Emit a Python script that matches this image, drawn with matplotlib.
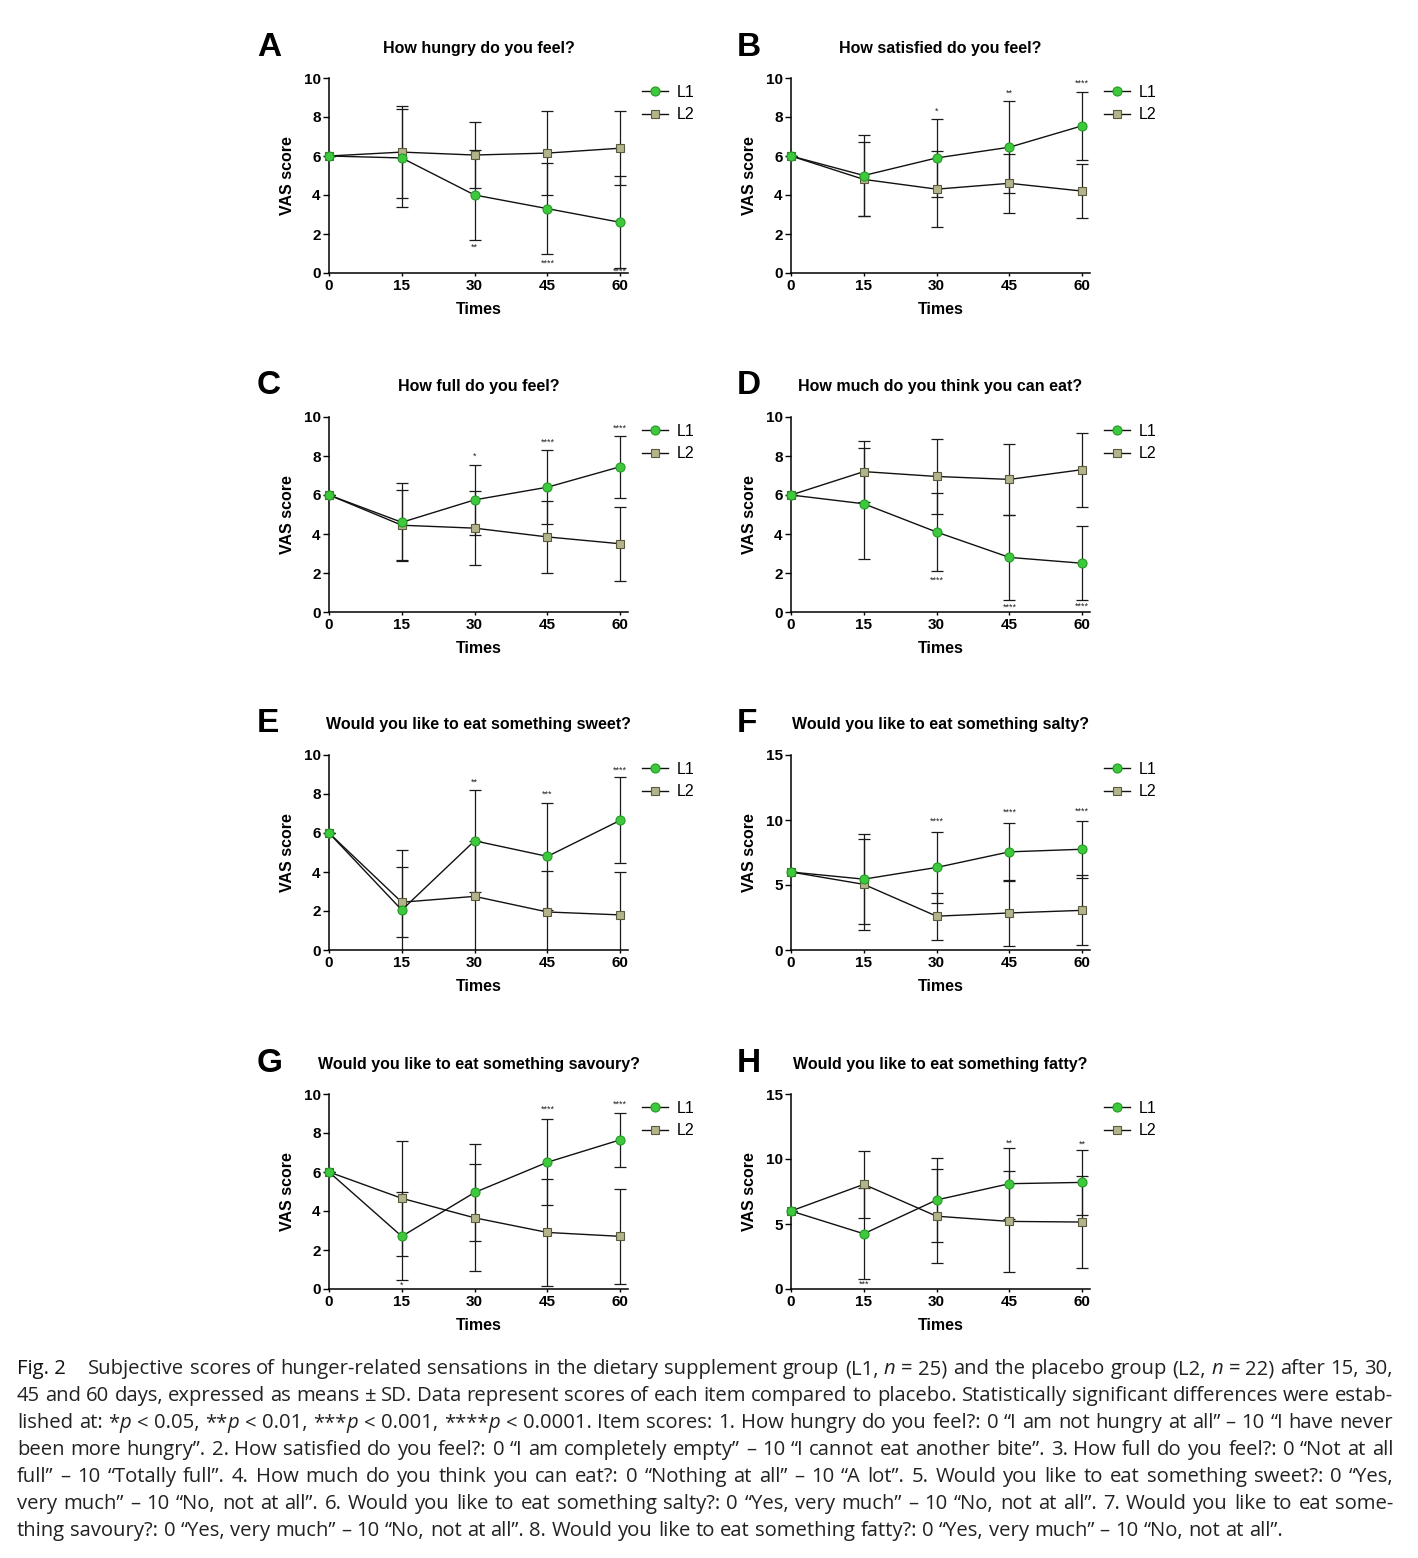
import matplotlib
matplotlib.use("Agg")
import matplotlib.pyplot as plt

W, H = 1418, 1558
DPI = 100

times = [0, 15, 30, 45, 60]

panel_letters = ["A", "B", "C", "D", "E", "F", "G", "H"]
panel_titles = [
    "How hungry do you feel?",
    "How satisfied do you feel?",
    "How full do you feel?",
    "How much do you think you can eat?",
    "Would you like to eat something sweet?",
    "Would you like to eat something salty?",
    "Would you like to eat something savoury?",
    "Would you like to eat something fatty?",
]
y_max = [10, 10, 10, 10, 10, 15, 10, 15]

L1_mean = [
    [6, 5.9, 4.0, 3.3, 2.6],
    [6, 5.0, 5.9, 6.45, 7.55],
    [6, 4.6, 5.75, 6.4, 7.45],
    [6, 5.55, 4.1, 2.8, 2.5],
    [6, 2.05, 5.6, 4.8, 6.65],
    [6, 5.45, 6.35, 7.55, 7.75],
    [6, 2.7, 4.95, 6.5, 7.65],
    [6, 4.25, 6.85, 8.1, 8.2],
]
L1_sd = [
    [0, 2.5, 2.3, 2.35, 2.35],
    [0, 2.1, 2.0, 2.35, 1.75],
    [0, 2.0, 1.8, 1.9, 1.6],
    [0, 2.85, 2.0, 2.2, 1.9],
    [0, 3.1, 2.6, 2.75, 2.2],
    [0, 3.45, 2.75, 2.25, 2.2],
    [0, 2.25, 2.5, 2.2, 1.4],
    [0, 3.5, 3.2, 2.75, 2.5],
]
L2_mean = [
    [6, 6.2, 6.05, 6.15, 6.4],
    [6, 4.8, 4.3, 4.6, 4.2],
    [6, 4.45, 4.3, 3.85, 3.5],
    [6, 7.2, 6.95, 6.8, 7.3],
    [6, 2.45, 2.75, 1.95, 1.8],
    [6, 5.05, 2.6, 2.85, 3.05],
    [6, 4.65, 3.65, 2.9, 2.7],
    [6, 8.05, 5.6, 5.2, 5.15],
]
L2_sd = [
    [0, 2.35, 1.7, 2.15, 1.9],
    [0, 1.9, 1.95, 1.5, 1.4],
    [0, 1.8, 1.9, 1.85, 1.9],
    [0, 1.55, 1.9, 1.8, 1.9],
    [0, 1.8, 2.85, 2.1, 2.2],
    [0, 3.5, 1.8, 2.55, 2.7],
    [0, 2.95, 2.75, 2.75, 2.45],
    [0, 2.55, 3.6, 3.9, 3.55],
]
# significance marks: (time, y, stars)
sig_marks = [
    [(30, 1.3, "**"), (45, 0.5, "****"), (60, 0.08, "****")],
    [(30, 8.3, "*"), (45, 9.2, "**"), (60, 9.75, "****")],
    [(30, 8.0, "*"), (45, 8.7, "****"), (60, 9.4, "****")],
    [(30, 1.65, "****"), (45, 0.25, "****"), (60, 0.3, "****")],
    [(30, 8.6, "**"), (45, 8.0, "***"), (60, 9.2, "****")],
    [(30, 9.9, "****"), (45, 10.6, "****"), (60, 10.7, "****")],
    [(15, 0.2, "*"), (45, 9.2, "****"), (60, 9.5, "****")],
    [(15, 0.4, "***"), (45, 11.2, "**"), (60, 11.1, "**")],
]

caption_lines = [
    "Subjective scores of hunger-related sensations in the dietary supplement group (L1, _n_ = 25) and the placebo group (L2, _n_ = 22) after 15, 30,",
    "45 and 60 days, expressed as means ± SD. Data represent scores of each item compared to placebo. Statistically significant differences were estab-",
    "lished at: *_p_ < 0.05, **_p_ < 0.01, ***_p_ < 0.001, ****_p_ < 0.0001. Item scores: 1. How hungry do you feel?: 0 “I am not hungry at all” – 10 “I have never",
    "been more hungry”. 2. How satisfied do you feel?: 0 “I am completely empty” – 10 “I cannot eat another bite”. 3. How full do you feel?: 0 “Not at all",
    "full” – 10 “Totally full”. 4. How much do you think you can eat?: 0 “Nothing at all” – 10 “A lot”. 5. Would you like to eat something sweet?: 0 “Yes,",
    "very much” – 10 “No, not at all”. 6. Would you like to eat something salty?: 0 “Yes, very much” – 10 “No, not at all”. 7. Would you like to eat some-",
    "thing savoury?: 0 “Yes, very much” – 10 “No, not at all”. 8. Would you like to eat something fatty?: 0 “Yes, very much” – 10 “No, not at all”.",
]

L1_face, L1_edge = "#3ec83e", "#239a23"
L2_face, L2_edge = "#b4b48c", "#5a5a40"

plt.rcParams["font.family"] = ["Liberation Sans", "DejaVu Sans"]
fig = plt.figure(figsize=(W / DPI, H / DPI), dpi=DPI)
fig.patch.set_facecolor("white")


def fx(x):
    return x / W


def fy(y):
    return 1 - y / H


col_left = [329, 791]
ax_w = 299
row_top = [78, 417, 755, 1094]
ax_h = 195
letter_x = [257, 737]

for i in range(8):
    r, c = divmod(i, 2)
    left = col_left[c]
    top = row_top[r]
    ax = fig.add_axes([fx(left), fy(top + ax_h), ax_w / W, ax_h / H])
    ax.errorbar(times, L1_mean[i], yerr=L1_sd[i], fmt="none", ecolor="#1a1a1a",
                elinewidth=0.9, capsize=4.5, capthick=0.9, zorder=2)
    ax.errorbar(times, L2_mean[i], yerr=L2_sd[i], fmt="none", ecolor="#1a1a1a",
                elinewidth=0.9, capsize=4.5, capthick=0.9, zorder=2)
    h1, = ax.plot(times, L1_mean[i], "-", color="#111111", lw=1.0, marker="o",
                  markersize=6.5, markerfacecolor=L1_face, markeredgecolor=L1_edge,
                  markeredgewidth=0.8, clip_on=False, zorder=4, label="L1")
    h2, = ax.plot(times, L2_mean[i], "-", color="#111111", lw=1.0, marker="s",
                  markersize=6.0, markerfacecolor=L2_face, markeredgecolor=L2_edge,
                  markeredgewidth=0.8, clip_on=False, zorder=3, label="L2")
    for (tx, ty, st) in sig_marks[i]:
        ax.text(tx, ty, st, fontsize=6.5, ha="center", va="center", color="#222222",
                clip_on=False)
    ym = y_max[i]
    ax.set_xlim(0, 61.6)
    ax.set_ylim(0, ym)
    ax.set_xticks(times)
    ax.set_yticks(range(0, ym + 1, 2 if ym == 10 else 5))
    for s in ["top", "right"]:
        ax.spines[s].set_visible(False)
    for s in ["left", "bottom"]:
        ax.spines[s].set_linewidth(1.1)
    ax.tick_params(axis="both", labelsize=11, width=1.0, length=4, pad=2)
    ax.tick_params(axis="x", length=2)
    for lab in ax.get_xticklabels() + ax.get_yticklabels():
        lab.set_fontweight("bold")
    ax.set_xlabel("Times", fontsize=11.5, fontweight="bold", labelpad=7)
    ax.set_ylabel("VAS score", fontsize=11.5, fontweight="bold", labelpad=6)
    # legend
    leg_x = left + ax_w + 14
    ax.legend(handles=[h1, h2], loc="upper left",
              bbox_to_anchor=(fx(leg_x), fy(top + 7)), bbox_transform=fig.transFigure,
              frameon=False, fontsize=11.5, handlelength=1.6, handletextpad=0.6,
              labelspacing=0.45, borderpad=0, borderaxespad=0)
    # title and letter
    fig.text(fx(left + ax_w / 2), fy(top - 30), panel_titles[i], fontsize=11.5,
             fontweight="bold", ha="center", va="center")
    fig.text(fx(letter_x[c]), fy(top - 31), panel_letters[i], fontsize=24,
             fontweight="bold", ha="left", va="center")

# ---- caption (justified) ----
cap_font = ["Open Sans", "DejaVu Sans"]
cap_size = 14.6
cap_color = "#222222"
renderer = fig.canvas.get_renderer()
cache = {}


def width_of(s, italic):
    key = (s, italic)
    if key not in cache:
        t = fig.text(0, 0, s, fontsize=cap_size, family=cap_font,
                     style="italic" if italic else "normal")
        cache[key] = t.get_window_extent(renderer=renderer).width
        t.remove()
    return cache[key]


def runs_of(word):
    parts = word.split("_")
    return [(p, k % 2 == 1) for k, p in enumerate(parts) if p]


space_w = width_of("a a", False) - width_of("aa", False)
x_right = 1393
line_y0 = 1369
line_dy = 27

fig.text(fx(17), fy(line_y0), "Fig. 2", fontsize=cap_size, family=cap_font,
         color="#111111", ha="left", va="center")

for li, line in enumerate(caption_lines):
    y = fy(line_y0 + li * line_dy)
    x0 = 88 if li == 0 else 17
    words = line.split(" ")
    wruns = [runs_of(w) for w in words]
    wwidths = [sum(width_of(s, it) for s, it in rs) for rs in wruns]
    total = sum(wwidths)
    if li < len(caption_lines) - 1 and len(words) > 1:
        gap = (x_right - x0 - total) / (len(words) - 1)
    else:
        gap = space_w
    x = x0
    for rs, ww in zip(wruns, wwidths):
        xx = x
        for s, it in rs:
            fig.text(fx(xx), y, s, fontsize=cap_size, family=cap_font,
                     style="italic" if it else "normal", color=cap_color,
                     ha="left", va="center")
            xx += width_of(s, it)
        x += ww + gap

fig.savefig("out.png", dpi=DPI, facecolor="white")
